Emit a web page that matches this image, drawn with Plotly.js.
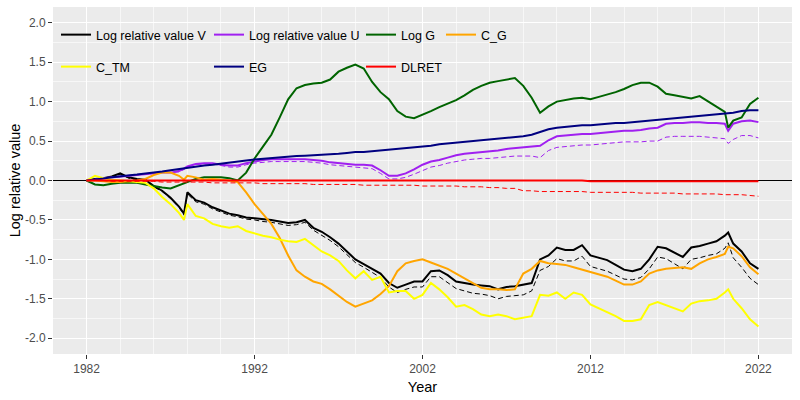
<!DOCTYPE html>
<html>
<head>
<meta charset="utf-8">
<script src="https://cdn.plot.ly/plotly-3.0.1.min.js"></script>
<style>
  html, body { margin: 0; padding: 0; background: #fff; }
  #chart { width: 800px; height: 400px; }
</style>
</head>
<body>
<div id="chart"></div>
<script>
// half-year grid, with two extra points where the lines jump (late 1987, early 2020)
const years = [
  1982, 1982.5, 1983, 1983.5, 1984, 1984.5, 1985, 1985.5, 1986, 1986.5, 1987, 1987.5,
  1987.8,
  1988, 1988.5, 1989, 1989.5, 1990, 1990.5, 1991, 1991.5, 1992, 1992.5,
  1993, 1993.5, 1994, 1994.5, 1995, 1995.5, 1996, 1996.5, 1997, 1997.5,
  1998, 1998.5, 1999, 1999.5, 2000, 2000.5, 2001, 2001.5, 2002, 2002.5,
  2003, 2003.5, 2004, 2004.5, 2005, 2005.5, 2006, 2006.5, 2007, 2007.5,
  2008, 2008.5, 2009, 2009.5, 2010, 2010.5, 2011, 2011.5, 2012, 2012.5,
  2013, 2013.5, 2014, 2014.5, 2015, 2015.5, 2016, 2016.5, 2017, 2017.5,
  2018, 2018.5, 2019, 2019.5, 2020,
  2020.2,
  2020.5, 2021, 2021.5, 2022
];

const logValueV = [
  0, 0.02, 0.03, 0.05, 0.09, 0.04, 0.02, 0.01, -0.07, -0.13, -0.22, -0.33,
  -0.42,
  -0.15, -0.25, -0.28, -0.34, -0.38, -0.42, -0.44, -0.47, -0.48, -0.49,
  -0.5, -0.52, -0.54, -0.53, -0.5, -0.6, -0.65, -0.72, -0.8, -0.9,
  -1.0, -1.06, -1.12, -1.18, -1.3, -1.36, -1.32, -1.28, -1.28, -1.15,
  -1.14, -1.2, -1.28, -1.3, -1.32, -1.33, -1.34, -1.38, -1.35, -1.34,
  -1.32, -1.3, -1.0, -0.95, -0.85, -0.88, -0.88, -0.82, -0.95, -0.98,
  -1.01, -1.07, -1.13, -1.15, -1.12, -1.0, -0.84, -0.86, -0.91, -0.97,
  -0.85, -0.83, -0.8, -0.77, -0.7,
  -0.66,
  -0.8, -0.9, -1.05, -1.12
];
const logValueV2 = [
  0, 0.02, 0.03, 0.04, 0.08, 0.03, 0.01, 0.0, -0.08, -0.14, -0.23, -0.34,
  -0.44,
  -0.17, -0.27, -0.3, -0.36, -0.4, -0.44, -0.46, -0.49, -0.5, -0.52,
  -0.53, -0.55, -0.57, -0.56, -0.53, -0.63, -0.69, -0.76, -0.84, -0.94,
  -1.04, -1.1, -1.17, -1.23, -1.35, -1.42, -1.38, -1.35, -1.35, -1.22,
  -1.22, -1.29, -1.37, -1.4, -1.43, -1.44, -1.46, -1.5, -1.47, -1.46,
  -1.45, -1.4, -1.14, -1.09, -0.99, -1.02, -1.02, -0.96, -1.09, -1.12,
  -1.15, -1.2, -1.25, -1.26, -1.23, -1.12, -0.97, -0.99, -1.05, -1.12,
  -1.0, -0.98, -0.95, -0.93, -0.86,
  -0.79,
  -0.98, -1.1, -1.24, -1.32
];

const logValueU = [
  0, 0.01, 0.03, 0.04, 0.05, 0.06, 0.07, 0.08, 0.09, 0.1, 0.1, 0.12,
  0.15,
  0.18, 0.21, 0.22, 0.22, 0.2, 0.19, 0.19, 0.22, 0.24, 0.26,
  0.27, 0.27, 0.27, 0.27, 0.27, 0.26, 0.25, 0.23, 0.22, 0.21,
  0.2, 0.2, 0.19, 0.13, 0.06, 0.06, 0.09, 0.14, 0.2, 0.24,
  0.26, 0.29, 0.32, 0.34, 0.35, 0.36, 0.37, 0.38, 0.4, 0.41,
  0.42, 0.43, 0.44, 0.51, 0.56, 0.57, 0.58, 0.59, 0.59, 0.6,
  0.61, 0.62, 0.63, 0.63, 0.64, 0.66, 0.67, 0.72, 0.73, 0.73,
  0.74, 0.74, 0.73, 0.73, 0.72,
  0.63,
  0.72, 0.75, 0.76, 0.74
];
const logValueU2 = [
  0, 0.01, 0.03, 0.04, 0.05, 0.06, 0.07, 0.08, 0.09, 0.1, 0.1, 0.11,
  0.14,
  0.17, 0.2, 0.21, 0.21, 0.19, 0.17, 0.17, 0.2, 0.22, 0.23,
  0.24, 0.24, 0.24, 0.24, 0.24, 0.23, 0.22, 0.2, 0.19, 0.18,
  0.17, 0.16, 0.15, 0.09, 0.02, 0.02, 0.04, 0.08, 0.13, 0.17,
  0.19, 0.22, 0.24, 0.26, 0.27, 0.28, 0.28, 0.29, 0.3, 0.31,
  0.31, 0.31, 0.29, 0.38, 0.42, 0.43, 0.44, 0.45, 0.45, 0.46,
  0.47, 0.48, 0.49, 0.49, 0.49, 0.5, 0.5, 0.55, 0.56, 0.56,
  0.56, 0.56, 0.55, 0.54, 0.53,
  0.47,
  0.52, 0.57, 0.57, 0.54
];

const logG = [
  0, -0.05, -0.06, -0.04, -0.03, -0.03, -0.03, -0.05, -0.07, -0.09, -0.1, -0.06,
  -0.04,
  -0.03, 0.02, 0.04, 0.04, 0.04, 0.03, 0.0, 0.1, 0.28, 0.43,
  0.58, 0.8, 1.03, 1.17, 1.21, 1.23, 1.24, 1.28, 1.38, 1.43,
  1.47, 1.42, 1.25, 1.12, 1.03, 0.88, 0.81, 0.79, 0.83, 0.88,
  0.93, 0.97, 1.02, 1.08, 1.15, 1.2, 1.24, 1.26, 1.28, 1.3,
  1.2, 1.05, 0.86, 0.94, 1.0, 1.02, 1.04, 1.05, 1.03, 1.06,
  1.09, 1.12, 1.16, 1.21, 1.24, 1.24, 1.19, 1.1, 1.08, 1.06,
  1.04, 1.07, 1.0, 0.93, 0.87,
  0.67,
  0.76, 0.8, 0.97, 1.05
];

const cG = [
  0, 0, -0.01, -0.02, -0.02, -0.01, 0.0, 0.02, 0.07, 0.1, 0.1, 0.06,
  0.01,
  0.06, 0.04, 0.01, 0.02, 0.01, 0.0, -0.02, -0.15, -0.3, -0.42,
  -0.55, -0.73, -0.95, -1.14, -1.22, -1.28, -1.31, -1.38, -1.46, -1.54,
  -1.6, -1.56, -1.52, -1.44, -1.34, -1.15, -1.05, -1.02, -1.0, -1.04,
  -1.08, -1.12, -1.18, -1.24, -1.3, -1.36, -1.38, -1.38, -1.39, -1.38,
  -1.18, -1.12, -1.02, -1.05, -1.06, -1.07, -1.1, -1.13, -1.16, -1.19,
  -1.22, -1.27, -1.32, -1.32, -1.28, -1.18, -1.14, -1.12, -1.11, -1.1,
  -1.12, -1.05, -1.0, -0.97, -0.93,
  -0.84,
  -0.86, -0.96, -1.1, -1.19
];

const cTM = [
  0, 0.06, 0.03, 0.01, 0.0, -0.01, -0.02, -0.03, -0.1, -0.21, -0.3, -0.41,
  -0.5,
  -0.3, -0.45, -0.48, -0.55, -0.58, -0.6, -0.58, -0.64, -0.67, -0.7,
  -0.72, -0.75, -0.77, -0.78, -0.74, -0.82, -0.9, -0.95, -1.02, -1.14,
  -1.24, -1.15, -1.26, -1.22, -1.42, -1.4, -1.4, -1.5, -1.45, -1.3,
  -1.38, -1.48, -1.6, -1.58, -1.63, -1.7, -1.72, -1.7, -1.72, -1.76,
  -1.74, -1.72, -1.45, -1.46, -1.42, -1.5, -1.42, -1.45, -1.57, -1.62,
  -1.66, -1.72, -1.78, -1.78, -1.76, -1.58, -1.54, -1.58, -1.62, -1.66,
  -1.56, -1.53, -1.52, -1.5, -1.42,
  -1.38,
  -1.5, -1.62, -1.76, -1.85
];

const eG = [
  0, 0.01, 0.025, 0.04, 0.05, 0.06, 0.075, 0.09, 0.1, 0.115, 0.13, 0.145,
  0.16,
  0.165, 0.18, 0.19, 0.2, 0.215, 0.23, 0.24, 0.255, 0.265, 0.275,
  0.285, 0.29, 0.3, 0.31, 0.315, 0.32, 0.33, 0.335, 0.34, 0.35,
  0.36, 0.36, 0.37, 0.38, 0.39, 0.4, 0.41, 0.42, 0.43, 0.44,
  0.46, 0.47, 0.48, 0.49, 0.5, 0.51, 0.52, 0.53, 0.54, 0.55,
  0.56, 0.58, 0.62, 0.65, 0.67, 0.68, 0.69, 0.7, 0.7, 0.71,
  0.72, 0.73, 0.73, 0.74, 0.75, 0.76, 0.77, 0.78, 0.79, 0.8,
  0.81, 0.82, 0.83, 0.84, 0.85,
  0.85,
  0.86, 0.88, 0.89, 0.89
];

const dlret = [
  0, 0, 0, 0, 0, 0, 0, 0, 0, 0, 0, 0,
  0,
  0, 0, 0, 0, 0, 0, 0, 0, 0, 0,
  0, 0, 0, 0, 0, 0, 0, 0, 0, 0,
  0, 0, 0, 0, 0, 0, 0, 0, 0, 0,
  0, 0, 0, 0, 0, 0, 0, 0, 0, 0,
  0, 0, 0, 0, 0, 0, 0, 0, -0.01, -0.01,
  -0.01, -0.01, -0.01, -0.01, -0.01, -0.01, -0.01, -0.01, -0.01, -0.01,
  -0.01, -0.01, -0.01, -0.01, -0.01,
  -0.01,
  -0.01, -0.01, -0.01, -0.01
];
const dlret2 = [
  0, 0, 0, -0.01, -0.01, -0.01, -0.01, -0.01, -0.01, -0.02, -0.02, -0.02,
  -0.02,
  -0.02, -0.02, -0.02, -0.03, -0.03, -0.03, -0.03, -0.03, -0.03, -0.04,
  -0.04, -0.04, -0.04, -0.04, -0.04, -0.05, -0.05, -0.05, -0.05, -0.05,
  -0.05, -0.06, -0.06, -0.06, -0.06, -0.06, -0.06, -0.06, -0.07, -0.07,
  -0.07, -0.07, -0.07, -0.08, -0.08, -0.08, -0.09, -0.09, -0.1, -0.1,
  -0.13, -0.13, -0.14, -0.14, -0.14, -0.14, -0.14, -0.14, -0.15, -0.15,
  -0.15, -0.15, -0.15, -0.15, -0.16, -0.16, -0.16, -0.16, -0.16, -0.17,
  -0.17, -0.17, -0.17, -0.17, -0.18,
  -0.18,
  -0.18, -0.18, -0.19, -0.2
];

const xTickVals = [1982, 1992, 2002, 2012, 2022];
const xTickText = ['1982', '1992', '2002', '2012', '2022'];
const yTickVals = [-2, -1.5, -1, -0.5, 0, 0.5, 1, 1.5, 2];
const yTickText = ['-2.0', '-1.5', '-1.0', '-0.5', '0.0', '0.5', '1.0', '1.5', '2.0'];

const FONT = 'Liberation Sans, Arial, sans-serif';

// plot area in pixels, used to place the legend columns like ggplot does
const PLOT_L = 53, PLOT_W = 739, PLOT_T = 7, PLOT_H = 347;
function legendAt(textX, rowY) {
    return {
        x: (textX - 42 - PLOT_L) / PLOT_W, xanchor: 'left',
        y: 1 - (rowY - PLOT_T) / PLOT_H, yanchor: 'middle',
        bgcolor: 'rgba(0,0,0,0)', borderwidth: 0,
        font: { family: FONT, size: 12.5, color: '#000' },
    };
}

function solid(name, y, color, legend) {
    return { x: years, y: y, type: 'scatter', mode: 'lines', name: name, legend: legend,
        line: { color: color, width: 2 }, hoverinfo: 'skip' };
}
function dashed(y, color) {
    return { x: years, y: y, type: 'scatter', mode: 'lines', showlegend: false,
        line: { color: color, width: 1, dash: '5px,3px' }, hoverinfo: 'skip' };
}

const traces = [
    dashed(logValueV2, '#000000'),
    solid('Log relative value V', logValueV, '#000000', 'legend'),
    dashed(logValueU2, '#A020F0'),
    solid('Log relative value U', logValueU, '#A020F0', 'legend2'),
    solid('Log G', logG, '#006400', 'legend3'),
    solid('C_G', cG, '#FFA500', 'legend4'),
    solid('C_TM', cTM, '#FFFF00', 'legend5'),
    solid('EG', eG, '#000080', 'legend6'),
    dashed(dlret2, '#FF0000'),
    solid('DLRET', dlret, '#FF0000', 'legend7'),
];

const layout = {
    width: 800, height: 400,
    margin: { l: PLOT_L, r: 800 - PLOT_L - PLOT_W, t: PLOT_T, b: 400 - PLOT_T - PLOT_H },
    paper_bgcolor: '#FFFFFF', plot_bgcolor: '#EBEBEB',
    font: { family: FONT, color: '#000' },
    xaxis: {
        range: [1980, 2024], tickmode: 'array', tickvals: xTickVals, ticktext: xTickText,
        ticks: 'outside', ticklen: 4, tickwidth: 1, tickcolor: '#333333',
        tickfont: { family: FONT, size: 12, color: '#4D4D4D' },
        showgrid: true, gridcolor: '#FFFFFF', gridwidth: 1.1, zeroline: false, showline: false,
        minor: { tickmode: 'linear', tick0: 1982, dtick: 2, showgrid: true, gridcolor: '#FFFFFF', gridwidth: 0.6, ticks: '' },
        title: { text: 'Year', font: { family: FONT, size: 14.5, color: '#000' }, standoff: 6 },
    },
    yaxis: {
        range: [-2.2, 2.2], tickmode: 'array', tickvals: yTickVals, ticktext: yTickText,
        ticks: 'outside', ticklen: 4, tickwidth: 1, tickcolor: '#333333',
        tickfont: { family: FONT, size: 12, color: '#4D4D4D' },
        showgrid: true, gridcolor: '#FFFFFF', gridwidth: 1.1, showline: false,
        zeroline: true, zerolinecolor: '#000000', zerolinewidth: 1,
        minor: { tickmode: 'linear', tick0: 0.25, dtick: 0.5, showgrid: true, gridcolor: '#FFFFFF', gridwidth: 0.6, ticks: '' },
        title: { text: 'Log relative value', font: { family: FONT, size: 14.5, color: '#000' }, standoff: 0 },
    },
    legend: legendAt(98, 35),
    legend2: legendAt(251, 35),
    legend3: legendAt(403, 35),
    legend4: legendAt(483, 35),
    legend5: legendAt(98, 67),
    legend6: legendAt(251, 67),
    legend7: legendAt(403, 67),
};

Plotly.newPlot('chart', traces, layout, { displayModeBar: false, staticPlot: true });
</script>
</body>
</html>
